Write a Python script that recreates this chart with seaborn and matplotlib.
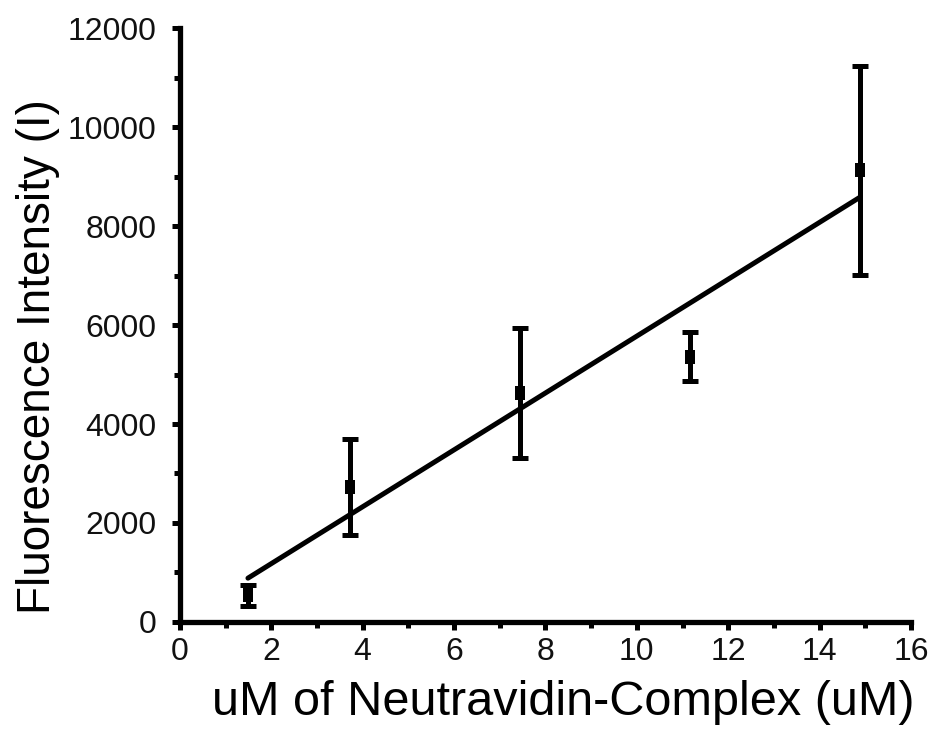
import numpy as np
import pandas as pd
import matplotlib
matplotlib.use("Agg")
import matplotlib.pyplot as plt
from matplotlib.ticker import MultipleLocator
import seaborn as sns

# Measured fluorescence vs. complex concentration
concentration = [1.49, 3.72, 7.44, 11.16, 14.88]
intensity = [540, 2727, 4626, 5360, 9130]
intensity_err = [210, 970, 1310, 500, 2110]

x_ticks = [0, 2, 4, 6, 8, 10, 12, 14, 16]
y_ticks = [0, 2000, 4000, 6000, 8000, 10000, 12000]

df = pd.DataFrame({"conc": concentration, "I": intensity, "err": intensity_err})

sns.set_style("ticks")
plt.rcParams["font.family"] = ["Liberation Sans", "DejaVu Sans"]
plt.rcParams["text.color"] = "black"
plt.rcParams["axes.labelcolor"] = "black"

fig = plt.figure(figsize=(9.32, 7.43), dpi=100)
ax = fig.add_axes([0.193, 0.163, 0.7845, 0.799])

# Linear fit through the means
sns.regplot(data=df, x="conc", y="I", ax=ax, ci=None, scatter=False, truncate=True,
            line_kws=dict(color="black", lw=3.6, solid_capstyle="round"))

ax.errorbar(df["conc"], df["I"], yerr=df["err"], fmt="none", ecolor="black",
            elinewidth=3.6, capsize=6, capthick=3.6, zorder=3)

# Slightly tall rectangular markers
rect = [(-0.8, -1), (0.8, -1), (0.8, 1), (-0.8, 1), (-0.8, -1)]
sns.scatterplot(data=df, x="conc", y="I", ax=ax, marker=rect, s=95, color="black",
                edgecolor="black", linewidth=0, zorder=4)

ax.set_xlim(0, 16)
ax.set_ylim(0, 12000)
ax.set_xticks(x_ticks)
ax.set_yticks(y_ticks)
ax.xaxis.set_minor_locator(MultipleLocator(1))
ax.yaxis.set_minor_locator(MultipleLocator(1000))

for side in ("top", "right"):
    ax.spines[side].set_visible(False)
for side in ("left", "bottom"):
    ax.spines[side].set_linewidth(3.8)
    ax.spines[side].set_color("black")

ax.tick_params(which="major", direction="out", length=6, width=3.6, labelsize=23,
               colors="black", labelcolor="#111111")
ax.tick_params(axis="y", which="major", pad=11)
ax.tick_params(axis="x", which="major", pad=5)
ax.tick_params(which="minor", direction="out", length=4, width=3.6, colors="black")

ax.set_xlabel("uM of Neutravidin-Complex (uM)", fontsize=35)
ax.set_ylabel("Fluorescence Intensity (I)", fontsize=33)
ax.xaxis.set_label_coords(0.524, -0.098)
ax.yaxis.set_label_coords(-0.164, 0.447)

fig.savefig("out.png", dpi=100, facecolor="white")
